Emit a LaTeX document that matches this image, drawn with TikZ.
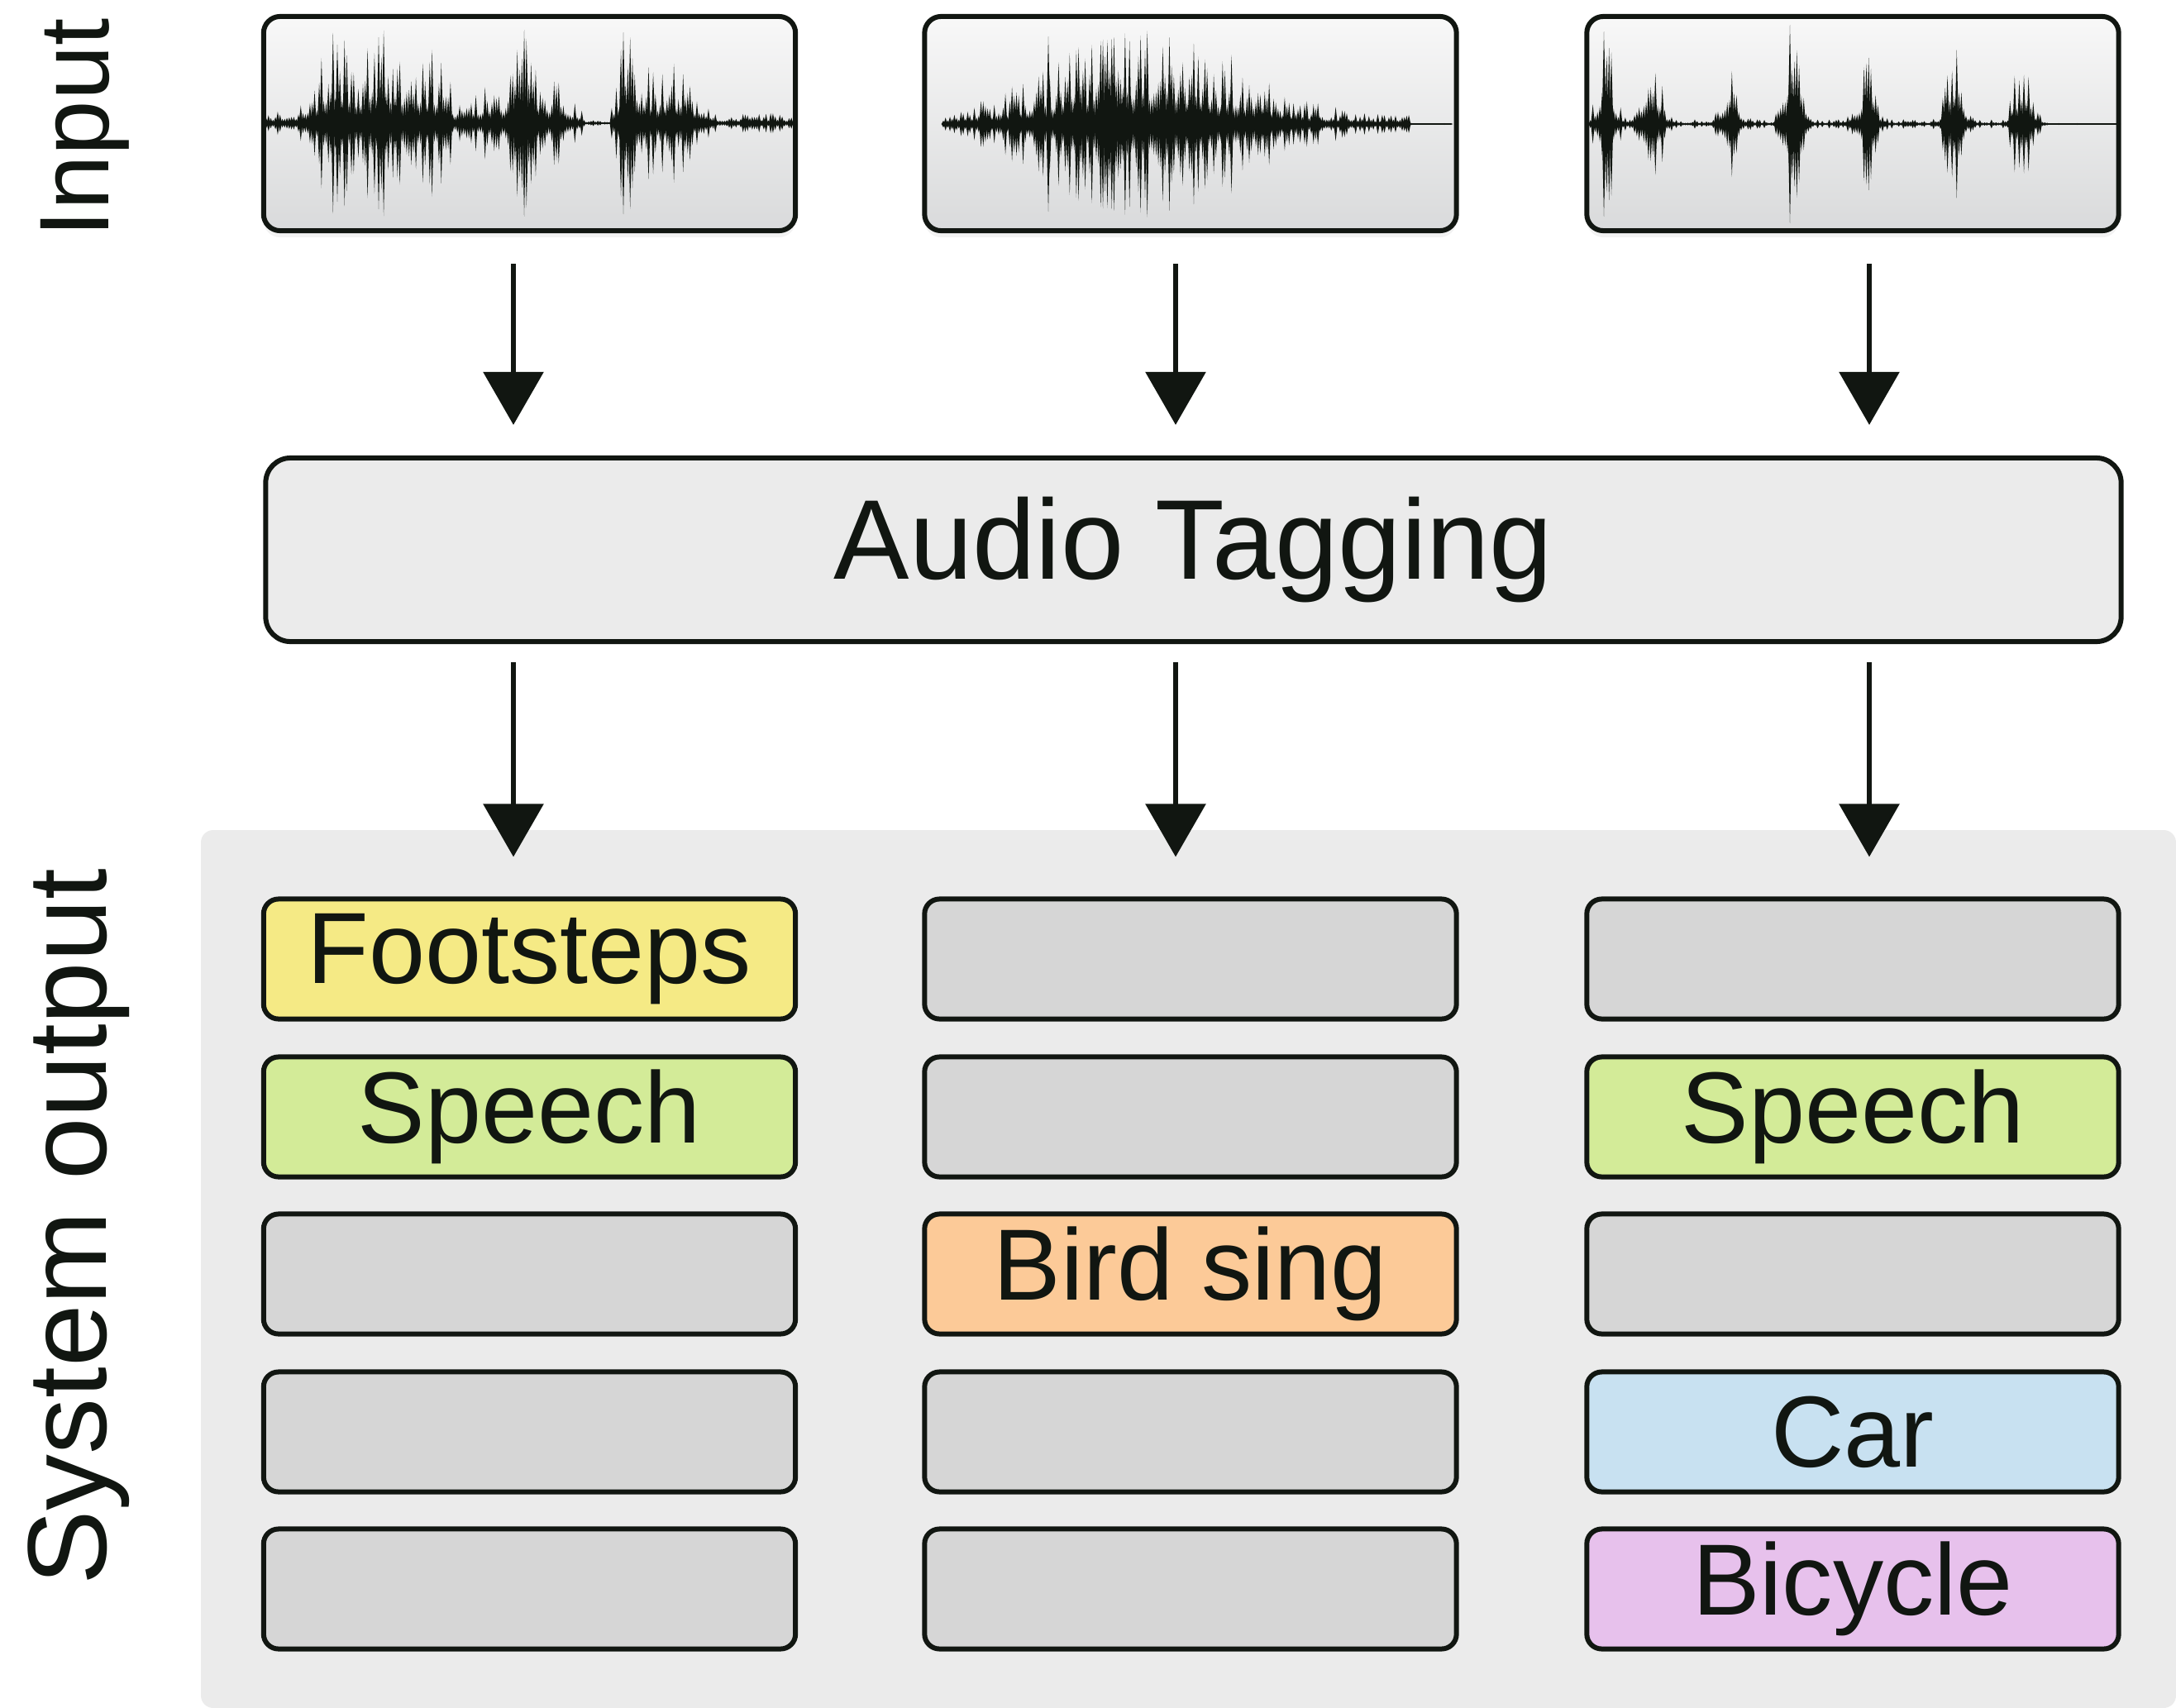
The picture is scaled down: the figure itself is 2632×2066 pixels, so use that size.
\documentclass[tikz,border=0pt]{standalone}
\usepackage{fontspec}
\setmainfont{Liberation Sans}
\usetikzlibrary{arrows.meta,calc,shadows}
\definecolor{ink}{HTML}{111611}
\definecolor{intop}{HTML}{F8F8F8}
\definecolor{inbot}{HTML}{D9DADB}
\definecolor{tagfill}{HTML}{EBEBEB}
\definecolor{bgout}{HTML}{EBEBEB}
\definecolor{grayb}{HTML}{D6D6D6}
\definecolor{yel}{HTML}{F5EA85}
\definecolor{grn}{HTML}{D3EB98}
\definecolor{org}{HTML}{FCCA98}
\definecolor{blu}{HTML}{C8E1F1}
\definecolor{pnk}{HTML}{E7C1EC}
\newcommand{\wavedraw}[4]{%
  \draw[ink, line width=0.02cm] (#1,#3) -- (#2,#3);
  \foreach \k in {0,...,229}{%
    \pgfmathsetmacro{\wt}{\k/229}%
    \pgfmathsetmacro{\wx}{#1+(#2-#1)*\wt}%
    \pgfmathsetmacro{\wr}{rnd}%
    \pgfmathsetmacro{\wa}{114*min(1,#4)*(0.22+0.78*pow(\wr,1.6))}%
    \fill[ink] (\wx-2.3,#3) -- (\wx,#3-\wa) -- (\wx+2.3,#3) -- (\wx,#3+\wa) -- cycle;
  }%
}
% a single tall thin spike: x, centre y, half height
\newcommand{\spike}[3]{%
  \fill[ink] (#1-2.5,#2) -- (#1,#2-#3) -- (#1+2.5,#2) -- (#1,#2+#3) -- cycle;}
\tikzset{
  inbox/.style={draw=ink, line width=0.06cm, rounded corners=0.2cm,
    minimum width=6.43cm, minimum height=2.59cm, inner sep=0pt,
    top color=intop, bottom color=inbot,
    drop shadow={shadow xshift=0cm, shadow yshift=-0.08cm, opacity=0.10}},
  tagbox/.style={draw=ink, line width=0.06cm, rounded corners=0.3cm,
    minimum width=22.43cm, minimum height=2.22cm, inner sep=0pt,
    fill=tagfill, text=ink, font=\fontsize{39pt}{46pt}\selectfont},
  outbox/.style={draw=ink, line width=0.06cm, rounded corners=0.18cm,
    minimum width=6.43cm, minimum height=1.45cm, inner sep=0pt,
    fill=grayb, text=ink, font=\fontsize{34.8pt}{42pt}\selectfont},
  sidelabel/.style={rotate=90, anchor=base, text=ink, inner sep=0pt},
  arr/.style={line width=0.06cm, draw=ink,
    -{Triangle[width=0.72cm,length=0.64cm]}}
}
\begin{document}
\begin{tikzpicture}[x=0.01cm,y=-0.01cm,
  declare function={gs(\t,\c,\w)=exp(0-((\t-\c)/\w)*((\t-\c)/\w));}]
\useasboundingbox (0,0) rectangle (2632,2066);
\pgfmathsetseed{4242}
% output background
\fill[bgout, rounded corners=0.15cm] (243,1004) -- (2632,1004) -- (2632,2066) -- (243,2066) -- cycle;
% side labels
\node[sidelabel, font=\fontsize{34pt}{40pt}\selectfont] (lin) at (131,155) {Input};
\node[sidelabel, font=\fontsize{38.6pt}{46pt}\selectfont] (lout) at (128,1484) {System output};
% input boxes
\node[inbox] (in1) at (640.5,149.5) {};
\node[inbox] (in2) at (1440,149.5) {};
\node[inbox] (in3) at (2241,149.5) {};
% waveforms
\wavedraw{322}{960}{149}{0.03+0.13*(1-(\wt>0.6)*(\wt<0.655))*(1-0.4*(\wt>0.85)) + 0.95*gs(\wt,0.13,0.04) + 1.0*gs(\wt,0.225,0.05) + 0.7*gs(\wt,0.32,0.03) + 0.4*gs(\wt,0.43,0.04) + 0.8*gs(\wt,0.49,0.025) + 0.4*gs(\wt,0.55,0.03) + 1.1*gs(\wt,0.68,0.012) + 0.45*gs(\wt,0.705,0.03) + 0.55*gs(\wt,0.77,0.04)}
\spike{754}{149}{110}
\spike{458}{149}{104}
\spike{408}{149}{95}
\wavedraw{1141}{1755}{150}{(0.01+0.08*(\wt<0.92)+1.05*gs(\wt,0.40,0.24)*(\wt<0.93))}
\spike{1268}{150}{106}
\wavedraw{1921}{2563}{150}{0.01+0.04*(\wt<0.86) + 1.0*gs(\wt,0.034,0.02) + 0.85*gs(\wt,0.121,0.02) + 0.75*gs(\wt,0.266,0.02) + 1.1*gs(\wt,0.387,0.02) + 0.7*gs(\wt,0.524,0.02) + 0.85*gs(\wt,0.69,0.02) + 0.9*gs(\wt,0.819,0.02)}
\spike{1940}{150}{112}
\spike{2165}{150}{120}
% audio tagging
\node[tagbox] (tag) at (1443.5,665) {Audio Tagging};
% output boxes
\node[outbox, fill=yel] (o11) at (640.5,1160) {Footsteps};
\node[outbox, fill=grn] (o12) at (640.5,1351) {Speech};
\node[outbox] (o13) at (640.5,1541) {};
\node[outbox] (o14) at (640.5,1732) {};
\node[outbox] (o15) at (640.5,1922) {};
\node[outbox] (o21) at (1440,1160) {};
\node[outbox] (o22) at (1440,1351) {};
\node[outbox, fill=org] (o23) at (1440,1541) {Bird sing};
\node[outbox] (o24) at (1440,1732) {};
\node[outbox] (o25) at (1440,1922) {};
\node[outbox] (o31) at (2241,1160) {};
\node[outbox, fill=grn] (o32) at (2241,1351) {Speech};
\node[outbox] (o33) at (2241,1541) {};
\node[outbox, fill=blu] (o34) at (2241,1732) {Car};
\node[outbox, fill=pnk] (o35) at (2241,1922) {Bicycle};
% arrows input -> tagging
\draw[arr] ($(in1.south)+(-19.5,37)$) -- ($(in1.south |- tag.north)+(-19.5,-37)$);
\draw[arr] ($(in2.south)+(-18,37)$) -- ($(in2.south |- tag.north)+(-18,-37)$);
\draw[arr] ($(in3.south)+(20,37)$) -- ($(in3.south |- tag.north)+(20,-37)$);
% arrows tagging -> outputs
\draw[arr] ($(o11.north |- tag.south)+(-19.5,22)$) -- ($(o11.north)+(-19.5,-48)$);
\draw[arr] ($(o21.north |- tag.south)+(-18,22)$) -- ($(o21.north)+(-18,-48)$);
\draw[arr] ($(o31.north |- tag.south)+(20,22)$) -- ($(o31.north)+(20,-48)$);
\end{tikzpicture}
\end{document}
